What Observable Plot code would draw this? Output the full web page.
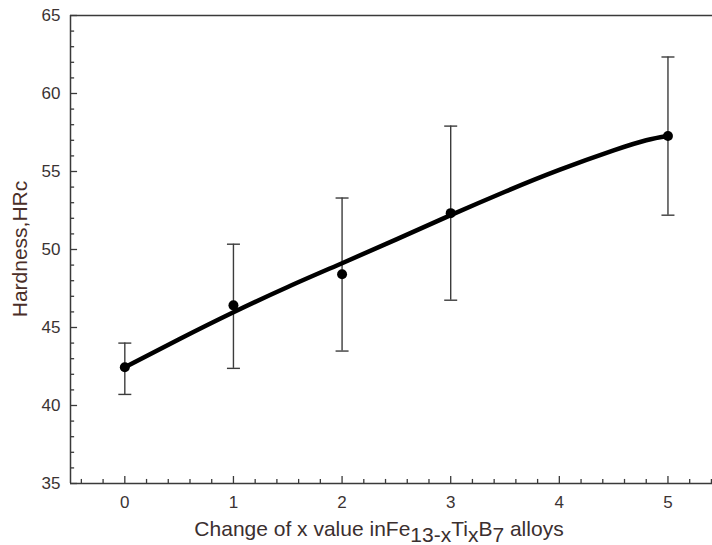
<!DOCTYPE html>
<html><head><meta charset="utf-8">
<script src="https://cdn.jsdelivr.net/npm/d3@7"></script>
<script src="https://cdn.jsdelivr.net/npm/@observablehq/plot@0.6"></script>
<style>body{margin:0;background:#fff;overflow:hidden}</style>
</head><body><div id="chart"></div>
<script>
// measured points (x value in Fe13-xTixB7) and hardness HRc
const xValues = [0, 1, 2, 3, 5];
const hardness = [42.45, 46.42, 48.41, 52.33, 57.27];
const errLow = [40.71, 42.38, 43.49, 46.75, 52.2];
const errHigh = [44.0, 50.34, 53.3, 57.91, 62.34];
// fitted curve
const fitX = [0, 0.5, 1, 1.5, 2, 2.5, 3, 3.5, 4, 4.5, 4.8, 5];
const fitY = [42.45, 44.25, 45.98, 47.6, 49.12, 50.65, 52.2, 53.7, 55.1, 56.35, 57.0, 57.27];
// ticks
const xMajor = [0, 1, 2, 3, 4, 5];
const xMinor = [-0.4,-0.2,0.2,0.4,0.6,0.8,1.2,1.4,1.6,1.8,2.2,2.4,2.6,2.8,3.2,3.4,3.6,3.8,4.2,4.4,4.6,4.8,5.2,5.4];
const yMajor = [35, 40, 45, 50, 55, 60, 65];
const yMinor = [36,37,38,39,41,42,43,44,46,47,48,49,51,52,53,54,56,57,58,59,61,62,63,64];

const points = xValues.map((x, i) => ({x, y: hardness[i], lo: errLow[i], hi: errHigh[i]}));
const fit = fitX.map((x, i) => ({x, y: fitY[i]}));

const X0 = -0.5, X1 = 5.41, Y0 = 35, Y1 = 65;
const textColor = "#3b3333";
const frameColor = "#3a3a3a";

const capSymbol = {draw(ctx, size) { const w = Math.sqrt(size / Math.PI); ctx.moveTo(-w, 0); ctx.lineTo(w, 0); }};

const plot = Plot.plot({
  width: 712,
  height: 545,
  marginLeft: 70,
  marginRight: 0,
  marginTop: 15,
  marginBottom: 62,
  style: {background: "#fff", fontFamily: "Liberation Sans, Arial, sans-serif", fontSize: "17px"},
  x: {domain: [X0, X1]},
  y: {domain: [Y0, Y1]},
  marks: [
    Plot.axisX({ticks: xMajor, tickSize: 0, tickPadding: 12, fontSize: 17, fill: textColor, label: null, tickFormat: d => String(d)}),
    Plot.axisY({ticks: yMajor, tickSize: 0, tickPadding: 10, fontSize: 17, fill: textColor, label: null}),
    // inward ticks
    Plot.ruleX(xMajor, {x: d => d, y1: Y0, y2: Y0 + 0.45, stroke: frameColor, strokeWidth: 1.3}),
    Plot.ruleX(xMinor, {x: d => d, y1: Y0, y2: Y0 + 0.26, stroke: frameColor, strokeWidth: 1.3}),
    Plot.ruleY(yMajor, {y: d => d, x1: X0, x2: X0 + 0.065, stroke: frameColor, strokeWidth: 1.3}),
    Plot.ruleY(yMinor, {y: d => d, x1: X0, x2: X0 + 0.038, stroke: frameColor, strokeWidth: 1.3}),
    // frame
    Plot.ruleX([X0], {stroke: frameColor, strokeWidth: 1.5}),
    Plot.ruleY([Y0, Y1], {stroke: frameColor, strokeWidth: 1.5}),
    // error bars
    Plot.ruleX(points, {x: "x", y1: "lo", y2: "hi", stroke: "#3c3c3c", strokeWidth: 1.4}),
    Plot.dot(points, {x: "x", y: "hi", symbol: capSymbol, r: 6.5, stroke: "#3c3c3c", strokeWidth: 1.4, fill: "none"}),
    Plot.dot(points, {x: "x", y: "lo", symbol: capSymbol, r: 6.5, stroke: "#3c3c3c", strokeWidth: 1.4, fill: "none"}),
    // fitted curve
    Plot.line(fit, {x: "x", y: "y", curve: "natural", stroke: "#000", strokeWidth: 4.5}),
    // data points
    Plot.dot(points, {x: "x", y: "y", r: 5, fill: "#000", stroke: "none"})
  ]
});

const svg = d3.select(plot);
svg.selectAll("[aria-label$='tick label']").attr("font-size", 17).style("font-size", "17px");
svg.selectAll("[aria-label$='tick label'] text").style("font-size", "17px");
// y-axis title
svg.append("text")
  .attr("transform", "translate(27,249) rotate(-90)")
  .attr("text-anchor", "middle")
  .attr("font-family", "Liberation Sans, Arial, sans-serif")
  .attr("font-size", 21)
  .attr("fill", "#4a2e28")
  .text("Hardness,HRc");
// x-axis title with subscripts
const xt = svg.append("text")
  .attr("x", 379).attr("y", 536)
  .attr("text-anchor", "middle")
  .attr("font-family", "Liberation Sans, Arial, sans-serif")
  .attr("font-size", 21)
  .attr("fill", "#3b2f2f");
xt.append("tspan").text("Change of x value inFe");
xt.append("tspan").attr("dy", 6).text("13-x");
xt.append("tspan").attr("dy", -6).text("Ti");
xt.append("tspan").attr("dy", 6).text("x");
xt.append("tspan").attr("dy", -6).text("B");
xt.append("tspan").attr("dy", 6).text("7");
xt.append("tspan").attr("dy", -6).text(" alloys");

document.getElementById("chart").appendChild(plot);
</script>
</body></html>
